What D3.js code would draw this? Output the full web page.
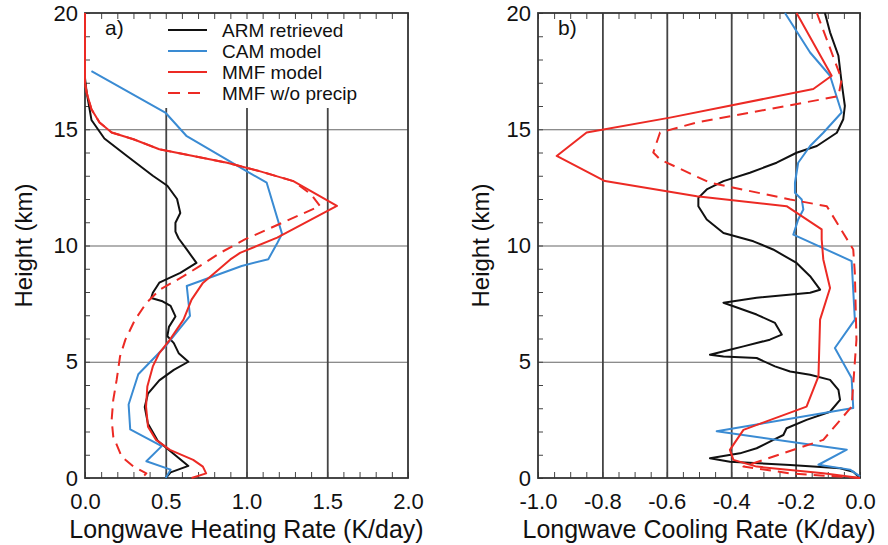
<!DOCTYPE html>
<html>
<head>
<meta charset="utf-8">
<script src="https://cdn.jsdelivr.net/npm/d3@7"></script>
<style>
  body { margin: 0; background: #fff; }
  text { font-family: "Liberation Sans", Arial, sans-serif; fill: #111; }
</style>
</head>
<body>
<script>
// profiles as [rate, height km]
var armHeat = [[0,17.2],[0.01,16.6],[0.04,15.4],[0.12,14.6],[0.26,13.85],[0.42,13.0],[0.51,12.57],[0.57,12.0],[0.59,11.4],[0.56,10.98],[0.56,10.6],[0.58,10.3],[0.63,9.83],[0.69,9.25],[0.59,8.82],[0.46,8.4],[0.42,7.97],[0.41,7.74],[0.48,7.6],[0.53,7.4],[0.56,6.95],[0.52,6.5],[0.51,6.1],[0.55,5.8],[0.58,5.37],[0.64,5.0],[0.55,4.65],[0.46,4.2],[0.39,3.63],[0.37,3.05],[0.39,2.33],[0.45,1.6],[0.55,1.03],[0.64,0.52],[0.53,0.24],[0.50,0]];
var camHeat = [[0.04,17.5],[0.50,15.7],[0.63,14.7],[1.0,13.2],[1.125,12.7],[1.22,10.5],[1.19,10.1],[1.135,9.41],[0.97,9.12],[0.63,8.26],[0.65,6.97],[0.50,5.68],[0.33,4.46],[0.27,3.16],[0.28,2.09],[0.475,1.37],[0.38,0.72],[0.53,0.36],[0.50,0]];
var mmfHeat = [[0,20],[0,17.0],[0.01,16.58],[0.04,15.86],[0.09,15.29],[0.165,14.86],[0.30,14.57],[0.46,14.14],[0.67,13.85],[0.88,13.56],[1.08,13.2],[1.29,12.77],[1.56,11.7],[1.19,10.34],[0.96,9.68],[0.90,9.4],[0.73,8.39],[0.66,7.67],[0.61,6.81],[0.526,5.95],[0.46,5.37],[0.42,4.8],[0.386,3.94],[0.378,3.07],[0.39,2.21],[0.44,1.64],[0.526,1.21],[0.67,0.78],[0.73,0.49],[0.75,0.2],[0.66,0]];
var mmfNoPrecipHeat = [[0,20],[0,17.0],[0.01,16.58],[0.04,15.86],[0.09,15.29],[0.165,14.86],[0.30,14.57],[0.46,14.14],[0.67,13.85],[0.88,13.56],[1.08,13.2],[1.29,12.77],[1.40,12.2],[1.455,11.7],[0.99,10.26],[0.836,9.68],[0.71,9.11],[0.61,8.68],[0.464,8.1],[0.38,7.53],[0.31,6.81],[0.25,5.95],[0.217,5.23],[0.196,4.22],[0.175,3.36],[0.165,2.5],[0.175,1.78],[0.227,0.92],[0.30,0.49],[0.38,0.2],[0.35,0]];

var armCool = [[-0.109,20],[-0.093,19.17],[-0.067,18.16],[-0.057,17.0],[-0.047,16.0],[-0.052,15.43],[-0.072,14.85],[-0.134,14.28],[-0.197,13.99],[-0.259,13.56],[-0.342,13.13],[-0.424,12.77],[-0.476,12.41],[-0.502,12.05],[-0.502,11.69],[-0.476,11.12],[-0.424,10.54],[-0.331,10.18],[-0.27,9.83],[-0.197,9.25],[-0.155,8.68],[-0.124,8.1],[-0.155,7.97],[-0.321,7.75],[-0.424,7.54],[-0.393,7.39],[-0.321,7.03],[-0.264,6.67],[-0.243,6.17],[-0.28,5.95],[-0.362,5.66],[-0.404,5.52],[-0.466,5.3],[-0.424,5.23],[-0.321,5.16],[-0.264,4.8],[-0.217,4.58],[-0.155,4.44],[-0.093,4.22],[-0.067,3.79],[-0.062,3.36],[-0.093,2.85],[-0.166,2.5],[-0.228,2.14],[-0.238,1.85],[-0.269,1.64],[-0.321,1.28],[-0.373,1.06],[-0.466,0.85],[-0.404,0.7],[-0.217,0.56],[-0.062,0.42],[-0.021,0.27],[0,0]];
var camCool = [[-0.233,20],[-0.155,18.3],[-0.093,17.3],[-0.057,15.72],[-0.114,14.85],[-0.155,14.28],[-0.192,13.56],[-0.202,12.7],[-0.202,12.27],[-0.181,11.98],[-0.176,11.55],[-0.192,11.12],[-0.207,10.47],[-0.026,9.33],[-0.016,6.81],[-0.078,5.59],[-0.026,4.3],[-0.021,3.01],[-0.445,2.01],[-0.041,1.22],[-0.129,0.57],[-0.031,0.36],[0,0.07]];
var mmfCool = [[-0.197,20],[-0.088,17.3],[-0.145,16.73],[-0.59,15.5],[-0.849,14.86],[-0.942,13.85],[-0.792,12.77],[-0.507,12.12],[-0.228,11.69],[-0.119,10.69],[-0.119,10.26],[-0.114,9.4],[-0.093,8.17],[-0.124,6.81],[-0.129,4.37],[-0.166,3.07],[-0.362,2.07],[-0.404,1.21],[-0.393,0.78],[-0.321,0.49],[-0.114,0.2],[0,0]];
var mmfNoPrecipCool = [[-0.134,20],[-0.057,17.15],[-0.067,16.42],[-0.507,15.29],[-0.621,14.86],[-0.642,14.0],[-0.621,13.7],[-0.466,12.7],[-0.217,11.98],[-0.103,11.69],[-0.021,9.83],[-0.016,8.82],[-0.011,5.95],[-0.026,3.07],[-0.114,1.64],[-0.30,0.78],[-0.362,0.49],[-0.217,0.2],[0,0]];

var heatTicks = [0, 0.5, 1.0, 1.5, 2.0];
var coolTicks = [-1.0, -0.8, -0.6, -0.4, -0.2, 0.0];
var heightTicks = [0, 5, 10, 15, 20];
var legendNames = ["ARM retrieved", "CAM model", "MMF model", "MMF w/o precip"];

var width = 888, height = 545;
var plotTop = 13, plotBottom = 478;
var blue = "#3a8bd3", red = "#ec2a24";

var svg = d3.select("body").append("svg")
    .attr("width", width)
    .attr("height", height)
    .style("background", "#fff");

var y = d3.scaleLinear().domain([0, 20]).range([plotBottom, plotTop]);
var fmt = function(d) { return d3.format(".1f")(d).replace("\u2212", "-"); };

function noDomain(s) { s.select(".domain").remove(); }

function drawPanel(x, minorStep, grid) {
  var g = svg.append("g");
  var l = x.range()[0], r = x.range()[1];
  var d0 = x.domain()[0], d1 = x.domain()[1];
  var minors = d3.range(Math.round((d1 - d0) / minorStep) + 1).map(function(i) { return d0 + i * minorStep; });

  // horizontal grid lines
  g.append("g")
      .attr("transform", "translate(" + l + ",0)")
      .call(d3.axisLeft(y).tickValues([5, 10, 15]).tickSize(-(r - l)).tickFormat(""))
      .call(noDomain)
      .selectAll("line").attr("stroke", "#666").attr("stroke-width", 1.2);

  // vertical grid lines
  g.append("g")
      .attr("transform", "translate(0," + plotBottom + ")")
      .call(d3.axisBottom(x).tickValues(grid).tickSize(-(plotBottom - plotTop)).tickFormat(""))
      .call(noDomain)
      .selectAll("line").attr("stroke", "#444").attr("stroke-width", 1.8);

  // minor ticks
  g.append("g")
      .attr("transform", "translate(0," + plotBottom + ")")
      .call(d3.axisBottom(x).tickValues(minors).tickSize(-6).tickFormat(""))
      .call(noDomain)
      .selectAll("line").attr("stroke", "#444");
  g.append("g")
      .attr("class", "topticks")
      .attr("transform", "translate(0," + plotTop + ")")
      .call(d3.axisTop(x).tickValues(minors).tickSize(-6).tickFormat(""))
      .call(noDomain)
      .selectAll("line").attr("stroke", "#444");
  g.append("g")
      .attr("transform", "translate(" + l + ",0)")
      .call(d3.axisLeft(y).tickValues(d3.range(0, 21)).tickSize(-5).tickFormat(""))
      .call(noDomain)
      .selectAll("line").attr("stroke", "#444");

  return g;
}

function drawCurves(g, x, series) {
  var line = d3.line()
      .x(function(d) { return x(d[0]); })
      .y(function(d) { return y(d[1]); });
  series.forEach(function(s) {
    g.append("path")
        .datum(s.data)
        .attr("d", line)
        .attr("fill", "none")
        .attr("stroke", s.color)
        .attr("stroke-width", 2)
        .attr("stroke-linejoin", "round")
        .attr("stroke-dasharray", s.dash ? "11,7" : null);
  });
}

function drawFrame(g, x, majors, title, tag, yTitleX) {
  var l = x.range()[0], r = x.range()[1];
  g.append("rect")
      .attr("x", l).attr("y", plotTop)
      .attr("width", r - l).attr("height", plotBottom - plotTop)
      .attr("fill", "none").attr("stroke", "#333").attr("stroke-width", 1.8);

  var xa = g.append("g")
      .attr("transform", "translate(0," + plotBottom + ")")
      .call(d3.axisBottom(x).tickValues(majors).tickSize(0).tickPadding(15).tickFormat(fmt));
  xa.call(noDomain);
  xa.selectAll("text").style("font-size", "22px").attr("fill", "#111");

  var ya = g.append("g")
      .attr("transform", "translate(" + l + ",0)")
      .call(d3.axisLeft(y).tickValues(heightTicks).tickSize(0).tickPadding(7).tickFormat(d3.format("d")));
  ya.call(noDomain);
  ya.selectAll("text").style("font-size", "22px").attr("fill", "#111");

  g.append("text")
      .attr("x", (l + r) / 2).attr("y", 538)
      .attr("text-anchor", "middle")
      .style("font-size", "25px")
      .text(title);

  g.append("text")
      .attr("transform", "translate(" + yTitleX + "," + ((plotTop + plotBottom) / 2) + ") rotate(-90)")
      .attr("text-anchor", "middle")
      .style("font-size", "24px")
      .text("Height (km)");

  g.append("text")
      .attr("x", l + 20).attr("y", 35)
      .style("font-size", "21px")
      .text(tag);
}

// panel a
var xHeat = d3.scaleLinear().domain([0, 2]).range([85, 408]);
var ga = drawPanel(xHeat, 0.1, [0.5, 1.0, 1.5]);

// legend box hides the grid behind it, top ticks stay visible
ga.insert("rect", ".topticks")
    .attr("x", 150).attr("y", plotTop + 1)
    .attr("width", 250).attr("height", 94)
    .attr("fill", "#fff");

var legendStyle = [
  { color: "#111", dash: false },
  { color: blue, dash: false },
  { color: red, dash: false },
  { color: red, dash: true }
];
var legend = ga.append("g").selectAll("g")
    .data(legendNames)
    .enter().append("g")
      .attr("transform", function(d, i) { return "translate(168," + (30 + i * 21) + ")"; });
legend.append("line")
    .attr("x1", 0).attr("x2", 39)
    .attr("stroke", function(d, i) { return legendStyle[i].color; })
    .attr("stroke-width", 2)
    .attr("stroke-dasharray", function(d, i) { return legendStyle[i].dash ? "12,8" : null; });
legend.append("text")
    .attr("x", 54).attr("y", 7)
    .style("font-size", "19px")
    .text(function(d) { return d; });

drawFrame(ga, xHeat, heatTicks, "Longwave Heating Rate (K/day)", "a)", 32);
drawCurves(ga, xHeat, [
  { data: armHeat, color: "#111" },
  { data: camHeat, color: blue },
  { data: mmfNoPrecipHeat, color: red, dash: true },
  { data: mmfHeat, color: red }
]);

// panel b
var xCool = d3.scaleLinear().domain([-1, 0]).range([538, 860]);
var gb = drawPanel(xCool, 0.05, [-0.8, -0.6, -0.4, -0.2]);
drawFrame(gb, xCool, coolTicks, "Longwave Cooling Rate (K/day)", "b)", 489);
drawCurves(gb, xCool, [
  { data: armCool, color: "#111" },
  { data: camCool, color: blue },
  { data: mmfNoPrecipCool, color: red, dash: true },
  { data: mmfCool, color: red }
]);
</script>
</body>
</html>
